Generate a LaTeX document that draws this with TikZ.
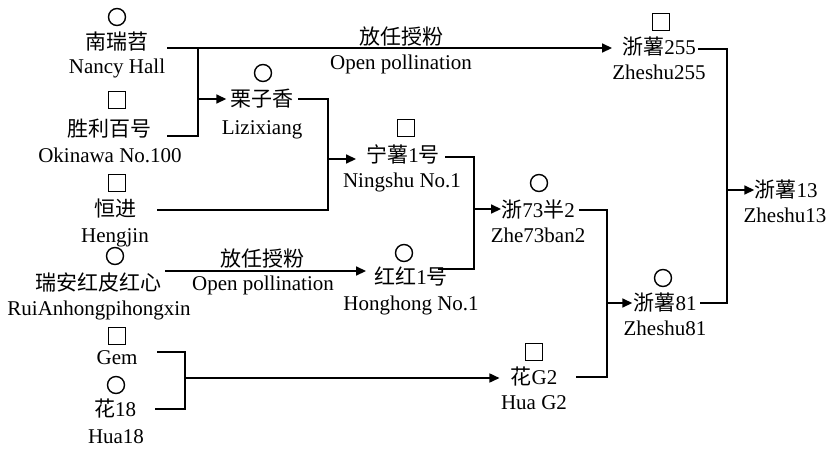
\documentclass[tikz,border=0pt]{standalone}
\usepackage{fontspec}
\setmainfont{Liberation Serif}
\newfontfamily\cjk{Noto Sans CJK SC}
\usetikzlibrary{arrows.meta}
\begin{document}
\begin{tikzpicture}[x=1pt,y=-1pt,
  txt/.style={inner sep=0pt, font=\fontsize{21}{24}\selectfont, text height=15pt, text depth=1pt},
  circ/.style={circle, draw, line width=1.4pt, minimum size=17pt, inner sep=0pt},
  sq/.style={rectangle, draw, line width=1.4pt, minimum size=16.5pt, inner sep=0pt},
  conn/.style={line width=1.6pt},
  arr/.style={conn, -{Triangle[length=10pt,width=9pt]}}]
\useasboundingbox (0,0) rectangle (827,448);
% left column
\node[circ] (c1) at (117,17) {};
\node[txt] (nh) at (117,42) {\cjk 南瑞苕};
\node[txt] (nhe) at (117,66) {Nancy Hall};
\node[sq] (s1) at (117,100) {};
\node[txt] (ok) at (109,129) {\cjk 胜利百号};
\node[txt] (oke) at (110,155) {Okinawa No.100};
\node[sq] (s2) at (117,183) {};
\node[txt] (hj) at (115,209) {\cjk 恒进};
\node[txt] (hje) at (115,235) {Hengjin};
\node[circ] (c2) at (115,256) {};
\node[txt] (ra) at (98,283) {\cjk 瑞安红皮红心};
\node[txt] (rae) at (99,308) {RuiAnhongpihongxin};
\node[sq] (s3) at (117,336) {};
\node[txt] (gem) at (117,357) {Gem};
\node[circ] (c3) at (116,385) {};
\node[txt] (h18) at (115,409) {{\cjk 花}18};
\node[txt] (h18e) at (116,436) {Hua18};
% middle
\node[circ] (c4) at (263,73) {};
\node[txt] (lz) at (262,99) {\cjk 栗子香};
\node[txt] (lze) at (262,127) {Lizixiang};
\node[sq] (s4) at (406,128) {};
\node[txt] (ns) at (403,155) {{\cjk 宁薯}1{\cjk 号}};
\node[txt] (nse) at (402,180) {Ningshu No.1};
\node[circ] (c5) at (404,253) {};
\node[txt] (hh) at (411,277) {{\cjk 红红}1{\cjk 号}};
\node[txt] (hhe) at (411,303) {Honghong No.1};
\node[txt] (op1) at (401,37) {\cjk 放任授粉};
\node[txt] (op1e) at (401,62) {Open pollination};
\node[txt] (op2) at (262,259) {\cjk 放任授粉};
\node[txt] (op2e) at (263,283) {Open pollination};
% right
\node[sq] (s5) at (661,22) {};
\node[txt] (z255) at (659,47) {{\cjk 浙薯}255};
\node[txt] (z255e) at (659,72) {Zheshu255};
\node[circ] (c6) at (539,183) {};
\node[txt] (z73) at (538,210) {{\cjk 浙}73{\cjk 半}2};
\node[txt] (z73e) at (538,235) {Zhe73ban2};
\node[circ] (c7) at (663,278) {};
\node[txt] (z81) at (665,303) {{\cjk 浙薯}81};
\node[txt] (z81e) at (665,328) {Zheshu81};
\node[sq] (s6) at (534,352) {};
\node[txt] (hg) at (534,377) {{\cjk 花}G2};
\node[txt] (hge) at (534,402) {Hua G2};
\node[txt] (z13) at (786,190) {{\cjk 浙薯}13};
\node[txt] (z13e) at (785,215) {Zheshu13};
% connector points
\coordinate (nhR) at (167,48);
\coordinate (okR) at (167,136);
\coordinate (jA) at (198,99);
\coordinate (lzR) at (298,99);
\coordinate (hjR) at (157,210);
\coordinate (jB) at (328,159);
\coordinate (raR) at (165,271);
\coordinate (nsR) at (445,157);
\coordinate (hhR) at (438,269);
\coordinate (jC) at (474,209);
\coordinate (z73R) at (579,210);
\coordinate (hgR) at (576,377);
\coordinate (jD) at (607,303);
\coordinate (z255R) at (698,49);
\coordinate (z81R) at (700,303);
\coordinate (jE) at (727,190);
\coordinate (gemR) at (157,352);
\coordinate (h18R) at (155,409);
\coordinate (jF) at (185,378);
% connectors
\draw[arr, shorten >=10pt] (nhR) -- (nhR -| z255.west);
\draw[conn] (okR) -| (jA |- nhR);
\draw[arr, shorten >=4pt] (jA) -- (jA -| lz.west);
\draw[conn] (lzR) -| (jB |- hjR) -- (hjR);
\draw[arr, shorten >=10pt] (jB) -- (jB -| ns.west);
\draw[arr, shorten >=8pt] (raR) -- (raR -| hh.west);
\draw[conn] (nsR) -| (jC |- hhR) -- (hhR);
\draw[arr] (jC) -- (jC -| z73.west);
\draw[conn] (z73R) -| (jD |- hgR) -- (hgR);
\draw[arr, shorten >=1pt] (jD) -- (jD -| z81.west);
\draw[conn] (z255R) -| (jE |- z81R) -- (z81R);
\draw[arr] (jE) -- (jE -| z13.west);
\draw[conn] (gemR) -| (jF |- h18R) -- (h18R);
\draw[arr, shorten >=11pt] (jF) -- (jF -| hg.west);
\end{tikzpicture}
\end{document}
